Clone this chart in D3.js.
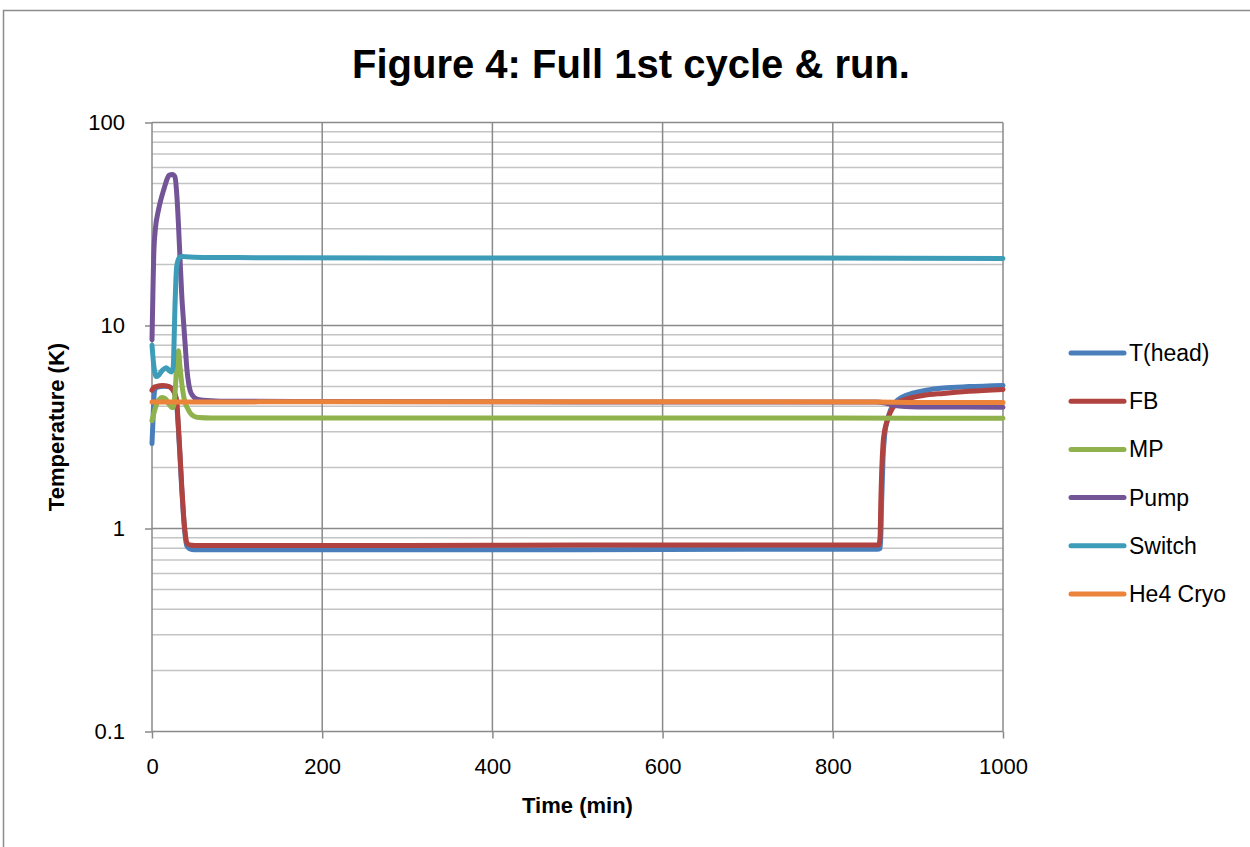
<!DOCTYPE html>
<html>
<head>
<meta charset="utf-8">
<script src="https://cdn.jsdelivr.net/npm/d3@7"></script>
<style>
  html, body { margin: 0; padding: 0; background: #fff; }
  svg { display: block; font-family: "Liberation Sans", Arial, sans-serif; }
</style>
</head>
<body>
<svg id="chart" width="1250" height="847"></svg>
<script>
// ---------- DATA ----------
const seriesNames = ["T(head)", "FB", "MP", "Pump", "Switch", "He4 Cryo"];
const seriesColors = ["#4a7ebb", "#b0423f", "#8fb24c", "#735497", "#3d9cb8", "#eb843a"];

const xTicks = [0, 200, 400, 600, 800, 1000];
const yTicks = [0.1, 1, 10, 100];
const yTickLabels = ["0.1", "1", "10", "100"];

// T(head)
const headTime = [0, 1, 2, 3, 5, 10, 15, 20, 24, 27, 29, 31, 33, 35, 37, 39, 41, 44, 50, 100, 300, 500, 700, 852, 856, 857.5, 859, 861, 864, 868, 874, 882, 895, 910, 930, 960, 1000];
const headVal  = [2.62, 3.3, 4.2, 4.75, 4.95, 5.0, 5.02, 5.0, 4.85, 4.55, 4.1, 3.1, 2.2, 1.55, 1.15, 0.92, 0.82, 0.795, 0.785, 0.785, 0.785, 0.785, 0.79, 0.79, 0.8, 1.4, 2.2, 2.9, 3.4, 3.85, 4.2, 4.45, 4.65, 4.8, 4.92, 5.0, 5.07];
// FB
const fbTime = [0, 2, 5, 9, 13, 17, 20, 24, 27, 29, 31, 33, 35, 37, 39, 41, 44, 50, 100, 300, 500, 700, 854, 855.5, 856.5, 857.5, 859, 861, 863, 866, 870, 875, 882, 890, 906, 930, 960, 1000];
const fbVal  = [4.8, 4.95, 5.0, 5.05, 5.06, 5.04, 5.0, 4.85, 4.6, 4.25, 3.2, 2.3, 1.6, 1.18, 0.95, 0.85, 0.83, 0.825, 0.825, 0.825, 0.83, 0.83, 0.83, 0.9, 1.4, 1.93, 2.6, 3.05, 3.3, 3.6, 3.9, 4.13, 4.28, 4.38, 4.52, 4.63, 4.74, 4.84];
// MP
const mpTime = [0, 3, 6, 9, 12, 16, 20, 23, 25, 27, 29, 31, 33, 36, 39, 42, 45, 49, 55, 70, 200, 500, 800, 1000];
const mpVal  = [3.4, 3.8, 4.15, 4.35, 4.42, 4.35, 4.1, 3.95, 3.95, 4.6, 6.3, 7.5, 6.2, 4.8, 4.15, 3.9, 3.7, 3.58, 3.52, 3.5, 3.5, 3.5, 3.5, 3.49];
// Pump
const pumpTime = [0, 1, 2, 4, 7, 10, 14, 18, 20, 24, 27, 29, 31, 33, 35, 37, 39, 41, 43, 45, 48, 52, 60, 80, 200, 500, 850, 862, 872, 885, 900, 1000];
const pumpVal  = [8.5, 14, 22, 30, 36, 41, 47, 53, 55, 55.5, 54, 45, 32, 21, 14, 10.5, 8, 6.1, 5.2, 4.75, 4.5, 4.35, 4.28, 4.24, 4.22, 4.2, 4.2, 4.15, 4.05, 3.99, 3.97, 3.96];
// Switch
const switchTime = [0, 2, 5, 8, 12, 17, 20, 23, 25, 26, 27, 28, 29, 31, 33, 36, 40, 50, 100, 300, 600, 1000];
const switchVal  = [8.0, 6.4, 5.6, 5.7, 6.0, 6.2, 6.0, 5.9, 6.3, 8.5, 12.5, 16.5, 19.5, 21.2, 21.8, 21.9, 21.8, 21.7, 21.6, 21.5, 21.5, 21.4];
// He4 Cryo
const cryoTime = [0, 50, 200, 500, 850, 900, 1000];
const cryoVal  = [4.2, 4.2, 4.21, 4.21, 4.2, 4.18, 4.18];

const seriesTimes = [headTime, fbTime, mpTime, pumpTime, switchTime, cryoTime];
const seriesVals  = [headVal, fbVal, mpVal, pumpVal, switchVal, cryoVal];

// ---------- LAYOUT ----------
const svg = d3.select("#chart");
const plot = { left: 152, right: 1003, top: 122.5, bottom: 731.5 };

const x = d3.scaleLinear().domain([0, 1000]).range([plot.left, plot.right]);
const y = d3.scaleLog().domain([0.1, 100]).range([plot.bottom, plot.top]);

// outer border
svg.append("rect")
  .attr("x", 3.5).attr("y", 10.5)
  .attr("width", 1300).attr("height", 900)
  .attr("fill", "none").attr("stroke", "#8c8c8c").attr("stroke-width", 1.5);

// title
svg.append("text")
  .attr("x", 631).attr("y", 78)
  .attr("text-anchor", "middle")
  .attr("font-weight", "bold")
  .attr("font-size", 40)
  .attr("fill", "#000")
  .text("Figure 4: Full 1st cycle & run.");

// minor horizontal gridlines
const minorVals = [];
[0.1, 1, 10].forEach(d => { for (let k = 2; k <= 9; k++) minorVals.push(d * k); });
svg.append("g").selectAll("line").data(minorVals).join("line")
  .attr("x1", plot.left).attr("x2", plot.right)
  .attr("y1", d => y(d)).attr("y2", d => y(d))
  .attr("stroke", "#c4c4c4").attr("stroke-width", 1.5);

// major horizontal gridlines
svg.append("g").selectAll("line").data(yTicks.slice(1)).join("line")
  .attr("x1", plot.left).attr("x2", plot.right)
  .attr("y1", d => y(d)).attr("y2", d => y(d))
  .attr("stroke", "#8a8a8a").attr("stroke-width", 1.5);

// vertical gridlines
svg.append("g").selectAll("line").data(xTicks.slice(1)).join("line")
  .attr("x1", d => x(d)).attr("x2", d => x(d))
  .attr("y1", plot.top).attr("y2", plot.bottom)
  .attr("stroke", "#8a8a8a").attr("stroke-width", 1.5);

// axes
const xAxis = d3.axisBottom(x).tickValues(xTicks).tickSize(7).tickPadding(20).tickFormat(d3.format("d"));
const gx = svg.append("g").attr("transform", `translate(0,${plot.bottom})`).call(xAxis);
gx.select(".domain").attr("stroke", "#8a8a8a").attr("stroke-width", 1.5).attr("d", `M${plot.left},0H${plot.right}`);
gx.selectAll(".tick line").attr("stroke", "#8a8a8a").attr("stroke-width", 1.5);
gx.selectAll(".tick text").attr("font-size", 22).attr("fill", "#000")
  .attr("font-family", "Liberation Sans, Arial, sans-serif");

const yAxis = d3.axisLeft(y).tickValues(yTicks).tickSize(7).tickPadding(20)
  .tickFormat((d, i) => yTickLabels[i]);
const gy = svg.append("g").attr("transform", `translate(${plot.left},0)`).call(yAxis);
gy.select(".domain").attr("stroke", "#8a8a8a").attr("stroke-width", 1.5).attr("d", `M0,${plot.bottom}V${plot.top}`);
gy.selectAll(".tick line").attr("stroke", "#8a8a8a").attr("stroke-width", 1.5);
gy.selectAll(".tick text").attr("font-size", 22).attr("fill", "#000")
  .attr("font-family", "Liberation Sans, Arial, sans-serif");

// axis titles
svg.append("text")
  .attr("x", (plot.left + plot.right) / 2).attr("y", 813)
  .attr("text-anchor", "middle").attr("font-weight", "bold").attr("font-size", 22)
  .text("Time (min)");
svg.append("text")
  .attr("transform", `translate(64,${(plot.top + plot.bottom) / 2}) rotate(-90)`)
  .attr("text-anchor", "middle").attr("font-weight", "bold").attr("font-size", 22)
  .text("Temperature (K)");

// series lines
const line = d3.line()
  .x(d => x(d[0]))
  .y(d => y(d[1]))
  .curve(d3.curveMonotoneX);

const gLines = svg.append("g");
seriesNames.forEach((name, i) => {
  const pts = seriesTimes[i].map((t, j) => [t, seriesVals[i][j]]);
  gLines.append("path")
    .datum(pts)
    .attr("d", line)
    .attr("fill", "none")
    .attr("stroke", seriesColors[i])
    .attr("stroke-width", 5)
    .attr("stroke-linejoin", "round")
    .attr("stroke-linecap", "round");
});

// legend
const legend = svg.append("g");
seriesNames.forEach((name, i) => {
  const ly = 353 + i * 48.2;
  legend.append("line")
    .attr("x1", 1071).attr("x2", 1124).attr("y1", ly).attr("y2", ly)
    .attr("stroke", seriesColors[i]).attr("stroke-width", 5).attr("stroke-linecap", "round");
  legend.append("text")
    .attr("x", 1129).attr("y", ly).attr("dy", "0.35em")
    .attr("font-size", 23).attr("fill", "#000")
    .text(name);
});
</script>
</body>
</html>
